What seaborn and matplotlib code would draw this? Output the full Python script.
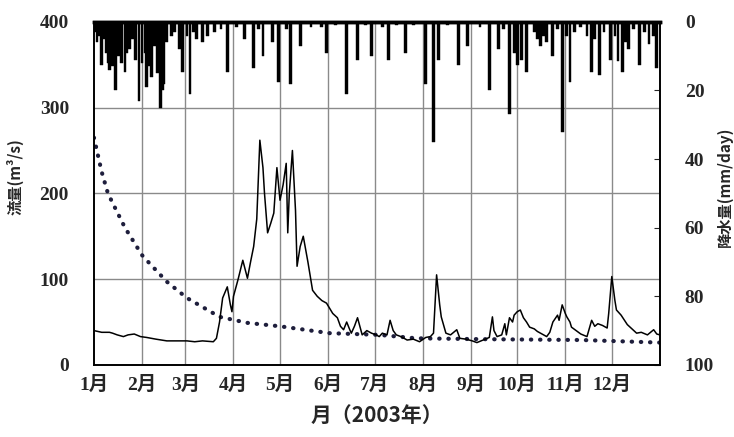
import numpy as np
import pandas as pd
import matplotlib
matplotlib.use("Agg")
import matplotlib.pyplot as plt
import seaborn as sns

# --- data (day of year 2003) ---
month_start = [0, 31, 59, 90, 120, 151, 181, 212, 243, 273, 304, 334]
month_labels = ["1月", "2月", "3月", "4月", "5月", "6月", "7月", "8月", "9月", "10月", "11月", "12月"]

flow_day = [0, 5, 10, 12, 15, 19, 22, 26, 30, 34, 40, 47, 55, 60, 65, 70, 77, 79, 81, 83,
            86, 88, 89, 90, 93, 96, 99, 101, 103, 105, 107, 109, 110, 112, 114, 116, 118, 120, 122, 124,
            125, 126, 128, 130, 131, 133, 135, 138, 141, 144, 147, 150, 154, 157, 159, 161, 163, 165, 166, 168,
            170, 173, 176, 179, 182, 184, 186, 189, 191, 193, 195, 198, 202, 206, 210, 214, 217, 219, 221, 223,
            224, 227, 230, 232, 234, 236, 240, 244, 247, 251, 255, 257, 258, 260, 263, 265, 266, 268, 270, 271,
            273, 275, 277, 279, 281, 284, 286, 289, 292, 294, 296, 299, 300, 302, 304, 305, 307, 308, 311, 314,
            318, 321, 323, 325, 328, 331, 332, 334, 336, 337, 340, 344, 347, 350, 353, 357, 359, 361, 363, 365]
flow_val = [40, 38, 38, 37, 35, 33, 35, 36, 33, 32, 30, 28, 28, 28, 27, 28, 27, 31, 50, 78,
            91, 70, 62, 80, 100, 122, 101, 120, 138, 170, 262, 230, 200, 154, 165, 177, 230, 192, 210, 235,
            154, 200, 250, 180, 115, 138, 150, 120, 87, 80, 75, 72, 60, 55, 45, 41, 50, 41, 37, 45,
            55, 35, 40, 37, 35, 33, 37, 35, 52, 40, 35, 33, 29, 30, 27, 32, 33, 37, 105, 70,
            56, 37, 35, 38, 41, 31, 30, 28, 26, 29, 32, 56, 40, 33, 35, 48, 35, 55, 50, 58,
            62, 64, 55, 50, 44, 42, 39, 36, 33, 38, 50, 58, 52, 70, 60, 56, 50, 44, 40, 36,
            33, 52, 45, 48, 46, 43, 60, 103, 75, 64, 58, 47, 42, 37, 38, 35, 38, 41, 36, 35]

base_day = [0, 5, 9, 12, 20, 31, 34, 47, 60, 81, 99, 120, 152, 184, 208, 250, 315, 365]
base_val = [265, 225, 200, 189, 160, 128, 122, 97, 78, 56, 49, 45, 37, 35, 31, 30, 29, 26]

rain_day = [1, 2, 3, 5, 7, 8, 9, 10, 11, 12, 14, 16, 17, 18, 20, 21, 23, 25, 27, 29,
            31, 33, 34, 36, 37, 39, 41, 43, 44, 45, 47, 50, 52, 55, 57, 60, 62, 64, 66, 70,
            73, 78, 82, 86, 92, 97, 103, 106, 109, 115, 119, 124, 127, 133, 140, 147, 150, 156, 163, 170,
            175, 179, 186, 190, 195, 201, 206, 214, 219, 222, 228, 235, 241, 249, 255, 261, 264, 268, 271, 273,
            276, 279, 284, 286, 288, 290, 292, 296, 299, 302, 305, 307, 310, 314, 318, 321, 323, 326, 329, 333,
            336, 338, 341, 343, 345, 348, 352, 355, 358, 361, 363]
rain_mm = [3, 6, 4, 12.5, 5, 9, 12, 14, 8, 13, 20, 10, 7, 12, 14.5, 9, 8, 5, 11, 23,
           12, 9, 19, 13, 16, 7, 15, 25, 20, 18, 6, 4, 3, 8, 14.5, 4, 21, 3, 5, 6,
           4, 3, 2, 14.5, 1.5, 5, 13.5, 2, 10, 6, 17.5, 2, 18, 7, 1.5, 1.5, 9, 1, 21, 11,
           1, 10, 1.5, 11, 1, 9, 1, 18, 35, 11, 1, 12.5, 7, 1.5, 20, 8, 2, 27, 9, 12.5,
           11, 14.5, 3, 5, 7, 4, 6, 10, 2, 32, 4, 17.5, 3, 1.5, 4, 14.5, 5, 15.5, 3, 11,
           4, 11.5, 14.5, 6, 8, 2, 12.5, 3, 6.5, 4, 13.5]

flow = pd.DataFrame({"day": flow_day, "flow": flow_val})
base = pd.DataFrame({"day": base_day, "flow": base_val})

# --- style ---
sns.set_style("white")
serif = ["Liberation Serif", "Noto Sans CJK JP", "DejaVu Sans"]
cjk = ["Noto Sans CJK JP", "DejaVu Sans"]
plt.rcParams["font.family"] = serif
plt.rcParams["font.weight"] = "bold"

fig = plt.figure(figsize=(7.34, 4.37), dpi=100)
ax = fig.add_axes([0.128, 0.165, 0.771, 0.785])

# grid
for d in month_start[1:]:
    ax.axvline(d, color="#8a8a8a", lw=1, zorder=0)
for v in [100, 200, 300]:
    ax.axhline(v, color="#8a8a8a", lw=1, zorder=0)

sns.lineplot(data=base, x="day", y="flow", ax=ax, color="#1e1e3c", lw=3,
             linestyle=(0, (0.1, 2.1)), dash_capstyle="round", zorder=2)
sns.lineplot(data=flow, x="day", y="flow", ax=ax, color="black", lw=1.1, zorder=3)

ax.set_xlim(0, 365)
ax.set_ylim(0, 400)
ax.set_yticks([0, 100, 200, 300, 400])
ax.set_xticks(month_start)
ax.set_xticklabels(month_labels)
ax.tick_params(axis="both", length=0, labelsize=14)
ax.tick_params(axis="y", pad=18)
ax.tick_params(axis="x", pad=8)
ax.set_xlabel("月（2003年）", fontsize=15, fontweight="bold", family=cjk, labelpad=8)
ax.set_ylabel("流量(m³/s)", fontsize=11, fontweight="bold", family=cjk)
ax.yaxis.set_label_coords(-0.125, 0.55)

# precipitation on inverted secondary axis
ax2 = ax.twinx()
ax2.bar(rain_day, rain_mm, width=1.8, color="black", edgecolor="black", lw=0.3)
ax2.set_ylim(100, 0)
ax2.set_yticks([0, 20, 40, 60, 80, 100])
ax2.tick_params(axis="y", direction="in", length=4, labelsize=14, pad=18)
ax2.set_ylabel("降水量(mm/day)", fontsize=11, fontweight="bold", family=cjk)
ax2.yaxis.set_label_coords(1.1, 0.52)

for a in (ax, ax2):
    for s in a.spines.values():
        s.set_color("black")
        s.set_linewidth(1.2)
    a.spines["top"].set_linewidth(2.5)

fig.savefig("out.png", dpi=100)
